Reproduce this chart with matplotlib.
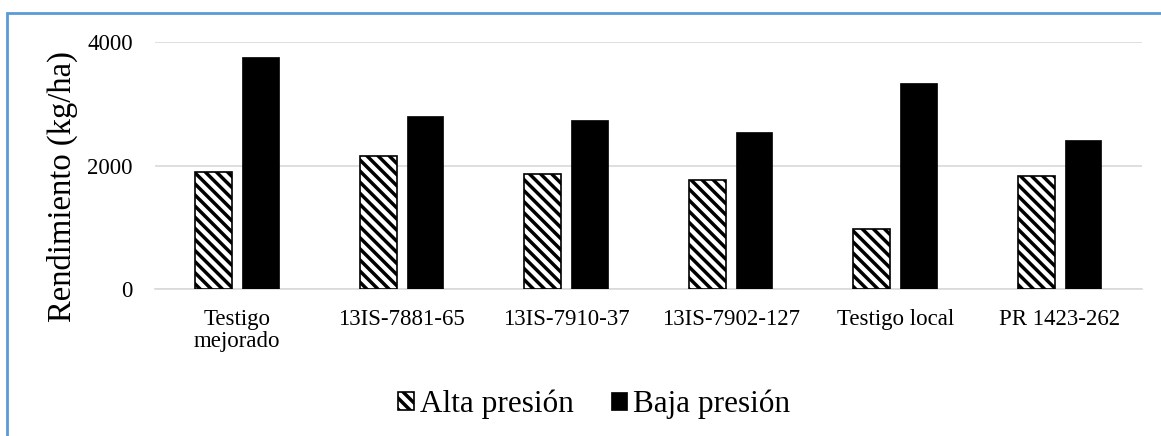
import numpy as np
import matplotlib.pyplot as plt
from matplotlib.patches import Rectangle

# data
categories = ['Testigo\nmejorado', '13IS-7881-65', '13IS-7910-37', '13IS-7902-127', 'Testigo local', 'PR 1423-262']
alta = [1904, 2164, 1862, 1770, 977, 1835]
baja = [3767, 2811, 2737, 2552, 3346, 2413]
yticks = [0, 2000, 4000]

plt.rcParams['font.family'] = ['Liberation Serif', 'DejaVu Serif']
plt.rcParams['hatch.linewidth'] = 2.5

fig = plt.figure(figsize=(11.61, 4.36), dpi=100)
ax = fig.add_axes([0.1335, 0.3365, 0.85, 0.5665])

x = np.arange(len(categories))
w = 0.224
off = 0.142
ax.bar(x - off, alta, w, color='white', edgecolor='black', hatch='\\\\\\', linewidth=1.2, label='Alta presión', zorder=3)
ax.bar(x + off, baja, w, color='black', edgecolor='black', linewidth=0.5, label='Baja presión', zorder=3)

ax.set_xlim(-0.5, len(categories) - 0.5)
ax.set_ylim(0, 4000)
ax.set_yticks(yticks)
ax.set_xticks(x)
ax.set_xticklabels(categories, fontsize=16.5, linespacing=1.1)
ax.tick_params(axis='y', labelsize=16.5, length=0, pad=16)
ax.tick_params(axis='x', length=0, pad=14)
ax.grid(axis='y', color='#d9d9d9', linewidth=1.2, zorder=0)
for s in ['top', 'right', 'left']:
    ax.spines[s].set_visible(False)
ax.spines['bottom'].set_color('#d9d9d9')
ax.spines['bottom'].set_linewidth(1.2)

# y label placed by its centre, as in the reference
fig.text(62 / 1161, 1 - 187 / 436, 'Rendimiento (kg/ha)', rotation=90, ha='center', va='center', fontsize=23.5)

fig.legend(loc='center', bbox_to_anchor=(594 / 1161, 1 - 404 / 436), ncol=2, frameon=False, fontsize=22.5,
           handlelength=0.5, handleheight=0.5, handletextpad=0.2, columnspacing=1.2)

# blue chart-area border as in the original
fig.patches.append(Rectangle((7 / 1161, -0.1), 1.2, (436 - 13) / 436 + 0.1, transform=fig.transFigure,
                             fill=False, edgecolor='#5b9bd5', linewidth=2))

fig.savefig('out.png', dpi=100)
